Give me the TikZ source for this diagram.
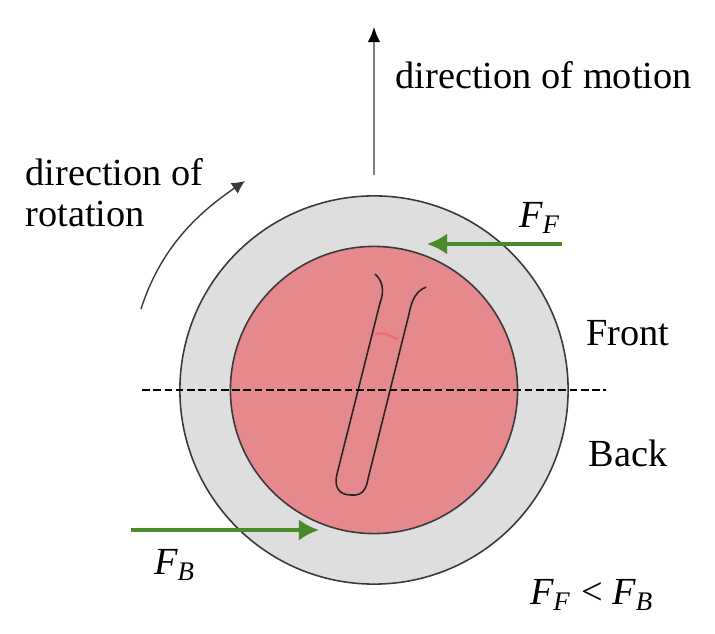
\documentclass[tikz,border=0pt]{standalone}
\usepackage{fontspec}
\setmainfont{Liberation Serif}
\usetikzlibrary{arrows.meta}
\definecolor{ringgray}{HTML}{DEDEDE}
\definecolor{corepink}{HTML}{E5898C}
\definecolor{forcegreen}{HTML}{4A8A2A}
\definecolor{edgegray}{HTML}{3A3A3A}
\definecolor{scarred}{HTML}{F06A70}
\newcommand{\forcesym}[1]{{\itshape F}\textsubscript{\itshape #1}}
\tikzset{
label/.style={inner sep=0pt,font=\fontsize{10.9pt}{13pt}\selectfont},
disc/.style={circle,draw=edgegray,line width=0.45pt,inner sep=0pt},
force/.style={draw=forcegreen,fill=forcegreen,line width=1pt,-{Latex[length=0.2cm,width=0.21cm]}}
}
\begin{document}
\begin{tikzpicture}[x=0.01cm,y=-0.01cm]
\useasboundingbox (0,0) rectangle (715,634);
\node[disc,fill=ringgray,minimum size=3.88cm] (outer) at (374,390) {};
\node[disc,fill=corepink,minimum size=2.87cm] (inner) at (374,390) {};
\draw[line width=0.45pt,black!85] (375,274) .. controls (382,280) and (385,290) .. (380,303)
  -- (337,474) .. controls (334,486) and (338,495) .. (351,495)
  .. controls (362,496) and (366,490) .. (368,479)
  -- (409,314) .. controls (412,298) and (417,291) .. (426,287);
\draw[line width=0.6pt,scarred] (375,334) .. controls (385,332) and (390,336) .. (398,339);
\coordinate (dashL) at (142,390);
\coordinate (dashR) at (606,390);
\draw[line width=0.4pt,dash pattern=on 2.2pt off 1pt] (dashL) -- (dashR);
\coordinate (motionA) at (374,175);
\coordinate (motionB) at (374,27);
\coordinate (motionC) at (374,41);
\draw[gray,line width=0.65pt] (motionA) -- (motionC);
\draw[-{Latex[length=0.15cm,width=0.125cm]},line width=0.4pt,black] (motionC) -- (motionB);
\coordinate (spinA) at (141,309);
\coordinate (spinB) at (245,181);
\draw[-{Latex[length=0.13cm,width=0.13cm]},line width=0.4pt,edgegray] (spinA) .. controls (160,250) and (195,215) .. (spinB);
\coordinate (ffA) at (562,244);
\coordinate (ffB) at (427,244);
\draw[force] (ffA) -- (ffB);
\coordinate (fbA) at (131,530);
\coordinate (fbB) at (319,530);
\draw[force] (fbA) -- (fbB);
\node[label,anchor=west] (motion) at (395,75) {direction of motion};
\node[label,anchor=west] (spin1) at (25,172) {direction of};
\node[label,anchor=west] (spin2) at (25,214) {rotation};
\node[label] (ff) at (540,218) {\forcesym{F}};
\node[label] (fb) at (175,565) {\forcesym{B}};
\node[label] (front) at (628,333) {Front};
\node[label] (back) at (628,453) {Back};
\node[label] (ineq) at (592,595) {\forcesym{F} < \forcesym{B}};
\end{tikzpicture}
\end{document}
